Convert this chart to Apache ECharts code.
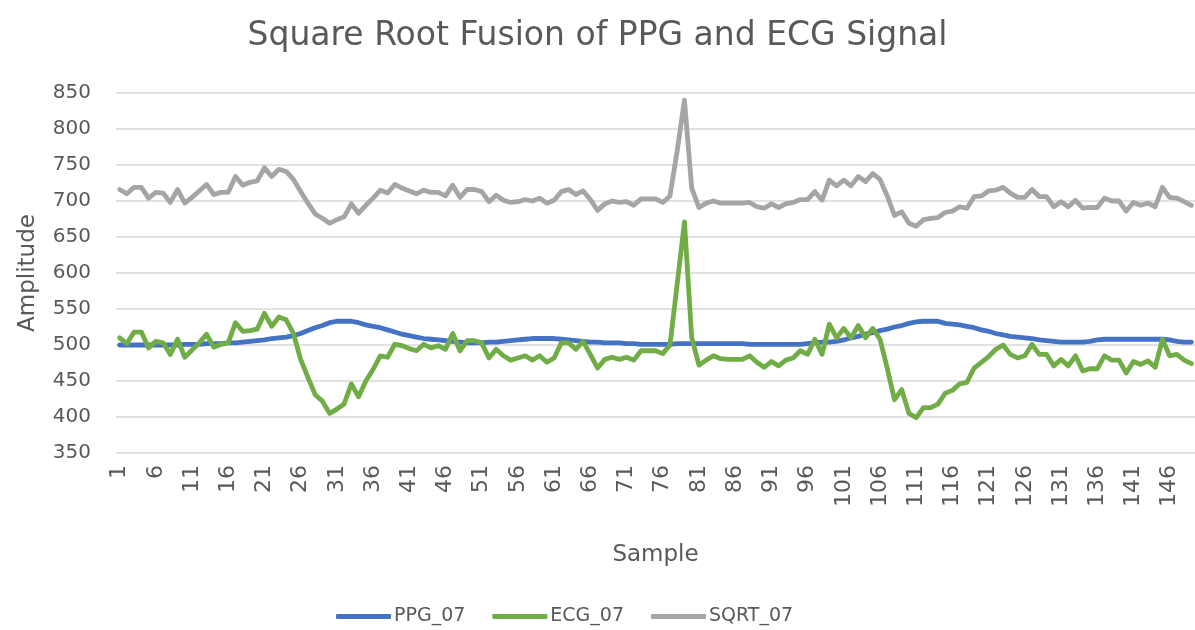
<!DOCTYPE html>
<html>
<head>
<meta charset="utf-8">
<script src="https://cdn.jsdelivr.net/npm/echarts@6/dist/echarts.min.js"></script>
<style>
  html, body { margin: 0; padding: 0; background: #fff; }
  #chart { width: 1195px; height: 630px; }
</style>
</head>
<body>
<div id="chart"></div>
<script>
// sample numbers 1..149 on the category axis
var samples = [];
for (var i = 1; i <= 149; i++) samples.push(String(i));

var ppg07 = [
  500,500,500,500,500,500,500,500,500,501,
  501,501,502,502,502,503,503,504,505,506,
  507,509,510,511,513,516,520,524,527,531,
  533,533,533,531,528,526,524,521,518,515,
  513,511,509,508,507,506,505,504,503,503,
  503,504,504,505,506,507,508,509,509,509,
  509,508,507,506,505,504,504,503,503,503,
  502,502,501,501,501,501,501,502,502,502,
  502,502,502,502,502,502,502,501,501,501,
  501,501,501,501,501,502,503,504,504,505,
  507,510,512,515,517,520,522,525,527,530,
  532,533,533,533,530,529,528,526,524,521,
  519,516,514,512,511,510,509,507,506,505,
  504,504,504,504,505,507,508,508,508,508,
  508,508,508,508,508,507,505,504,504
];

var ecg07 = [
  510,502,518,518,496,505,503,487,508,483,
  493,503,515,497,501,503,531,519,520,522,
  544,526,539,535,516,480,455,431,422,405,
  411,418,446,428,450,466,485,483,501,499,
  495,492,501,496,499,494,516,492,506,506,
  503,482,494,485,479,482,485,479,485,476,
  482,503,503,494,505,487,468,480,483,480,
  483,479,492,492,492,488,500,585,671,510,
  472,479,485,481,480,480,480,485,476,469,
  477,471,479,482,492,487,508,487,529,510,
  523,510,527,510,523,508,468,424,438,405,
  399,413,413,418,433,437,446,448,468,476,
  484,494,500,487,482,485,501,487,487,471,
  480,471,485,464,467,467,485,479,479,461,
  477,473,478,469,508,485,487,479,474
];

var sqrt07 = [
  716,710,719,719,704,712,711,698,716,697,
  705,714,723,709,712,712,734,722,726,728,
  746,734,744,741,730,713,697,682,676,669,
  674,678,696,683,694,704,715,711,723,718,
  714,710,715,712,712,707,722,705,716,716,
  713,699,708,701,698,699,702,700,704,697,
  701,713,716,709,714,702,687,696,700,698,
  699,694,703,703,703,698,707,770,840,718,
  691,697,700,697,697,697,697,698,692,690,
  696,691,696,698,702,702,713,701,729,721,
  729,721,734,727,738,730,707,680,685,669,
  665,674,676,677,684,686,692,690,706,707,
  714,715,719,711,705,705,716,706,706,692,
  699,692,701,690,691,691,704,700,700,686,
  698,694,697,692,719,705,704,699,694
];

var font = "DejaVu Sans";
var textColor = "#595959";

function lineSeries(name, data, color) {
  return {
    name: name,
    type: "line",
    data: data,
    symbol: "none",
    color: color,
    lineStyle: { width: 4.8, color: color, cap: "round", join: "round" }
  };
}

var chart = echarts.init(document.getElementById("chart"));
chart.setOption({
  animation: false,
  backgroundColor: "#fff",
  title: {
    text: "Square Root Fusion of PPG and ECG Signal",
    left: "center",
    top: 15,
    textStyle: { fontFamily: font, fontSize: 33, fontWeight: "normal", color: textColor }
  },
  legend: {
    top: 602,
    left: 331,
    icon: "roundRect",
    itemWidth: 55,
    itemHeight: 5,
    itemGap: 27,
    textStyle: { fontFamily: font, fontSize: 19, color: textColor, padding: [0, 0, 0, -2] },
    data: ["PPG_07", "ECG_07", "SQRT_07"]
  },
  grid: { left: 116, right: 0, top: 93, bottom: 177 },
  xAxis: {
    type: "category",
    data: samples,
    boundaryGap: true,
    name: "Sample",
    nameLocation: "middle",
    nameGap: 91,
    nameTextStyle: { fontFamily: font, fontSize: 23, color: textColor },
    axisLine: { show: false },
    axisTick: { show: false },
    axisLabel: {
      interval: 4,
      rotate: 90,
      margin: 12,
      fontFamily: font,
      fontSize: 22,
      color: textColor
    }
  },
  yAxis: {
    type: "value",
    min: 350,
    max: 850,
    interval: 50,
    name: "Amplitude",
    nameLocation: "middle",
    nameGap: 76,
    nameTextStyle: { fontFamily: font, fontSize: 23, color: textColor },
    axisLine: { show: false },
    axisTick: { show: false },
    axisLabel: { margin: 25, fontFamily: font, fontSize: 20, color: textColor },
    splitLine: { lineStyle: { color: "#D9D9D9", width: 1.5 } }
  },
  series: [
    lineSeries("PPG_07", ppg07, "#4472C4"),
    lineSeries("ECG_07", ecg07, "#70AD47"),
    lineSeries("SQRT_07", sqrt07, "#A5A5A5")
  ]
});
</script>
</body>
</html>
